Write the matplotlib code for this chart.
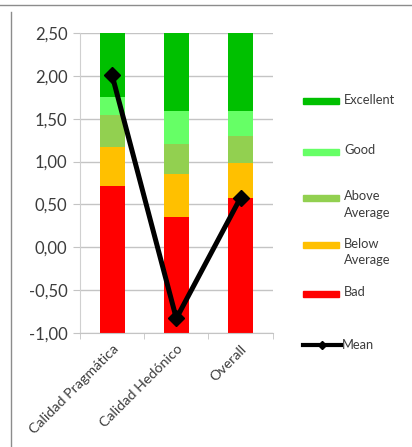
import matplotlib
matplotlib.use("Agg")
import matplotlib.pyplot as plt
from matplotlib.lines import Line2D
from matplotlib.patches import Rectangle
import numpy as np

plt.rcParams['font.family'] = ['Lato', 'DejaVu Sans']

categories = ["Calidad Pragmática", "Calidad Hedónico", "Overall"]
series = ["Bad", "Below\nAverage", "Above\nAverage", "Good", "Excellent"]
colors = ["#FF0000", "#FFC000", "#92D050", "#66FF66", "#00C000"]

# upper limit of each benchmark band, per category
bad_top = [0.72, 0.35, 0.57]
below_top = [1.17, 0.86, 0.98]
above_top = [1.54, 1.20, 1.30]
good_top = [1.75, 1.59, 1.59]
excellent_top = [2.50, 2.50, 2.50]
mean_values = [2.01, -0.83, 0.58]

y_min, y_max = -1.0, 2.5
y_ticks = [-1.0, -0.5, 0.0, 0.5, 1.0, 1.5, 2.0, 2.5]

TEXT = "#3c3c3c"

fig = plt.figure(figsize=(4.12, 4.47), dpi=100)
ax = fig.add_axes([0.194, 0.255, 0.468, 0.671])

x = np.arange(len(categories))
tops = [bad_top, below_top, above_top, good_top, excellent_top]
bottom = np.full(len(categories), y_min)
for name, col, top in zip(series, colors, tops):
    top = np.array(top)
    ax.bar(x, top - bottom, bottom=bottom, width=0.39, color=col, zorder=2)
    bottom = top

ax.plot(x, mean_values, color="black", lw=3.6, marker="D", ms=8,
        zorder=3, solid_joinstyle="miter")

ax.set_xlim(-0.5, len(categories) - 0.5)
ax.set_ylim(y_min, y_max)
ax.set_yticks(y_ticks)
ax.set_yticklabels([f"{v:.2f}".replace(".", ",") for v in y_ticks],
                   fontsize=12, color=TEXT)
ax.yaxis.grid(True, color="#c4c4c4", lw=1, zorder=0)
ax.set_axisbelow(True)
ax.tick_params(axis="y", length=5, color="#c4c4c4", pad=4)

ax.set_xticks(x)
ax.set_xticklabels(categories, rotation=45, ha="right", rotation_mode="anchor",
                   fontsize=10.3, color=TEXT)
ax.tick_params(axis="x", which="major", length=0, pad=7)
ax.set_xticks(np.arange(-0.5, len(categories), 1.0), minor=True)
ax.tick_params(axis="x", which="minor", length=4, color="#c4c4c4")

for s in ["top", "right"]:
    ax.spines[s].set_visible(False)
ax.spines["left"].set_color("#d0d0d0")
ax.spines["bottom"].set_color("#c4c4c4")

# legend drawn at the side, in figure pixels
W, H = 412, 447
legend_rows = [("Excellent", colors[4], 101),
               ("Good", colors[3], 152),
               ("Above\nAverage", colors[2], 198),
               ("Below\nAverage", colors[1], 245),
               ("Bad", colors[0], 294)]
for label, col, yp in legend_rows:
    yy = 1 - yp / H
    fig.add_artist(Rectangle((303 / W, yy - 3 / H), 36 / W, 6 / H,
                             transform=fig.transFigure, color=col))
    fig.text(344 / W, yy + 7.5 / H, label, fontsize=9.3, color=TEXT,
             va="top", linespacing=1.45)
ym = 1 - 345 / H
fig.add_artist(Line2D([303 / W, 341 / W], [ym, ym], transform=fig.transFigure,
                      color="black", lw=3))
fig.add_artist(Line2D([322 / W], [ym], transform=fig.transFigure, color="black",
                      marker="D", ms=4))
fig.text(342 / W, ym, "Mean", fontsize=9.3, color=TEXT, va="center")

# outer frame lines
fig.add_artist(Line2D([0, 1], [1 - 5 / H, 1 - 5 / H], transform=fig.transFigure,
                      color="#8c8c8c", lw=1))
fig.add_artist(Line2D([10.5 / W, 10.5 / W], [0, 1 - 12 / H], transform=fig.transFigure,
                      color="#8c8c8c", lw=1))

fig.savefig("out.png", dpi=100)
